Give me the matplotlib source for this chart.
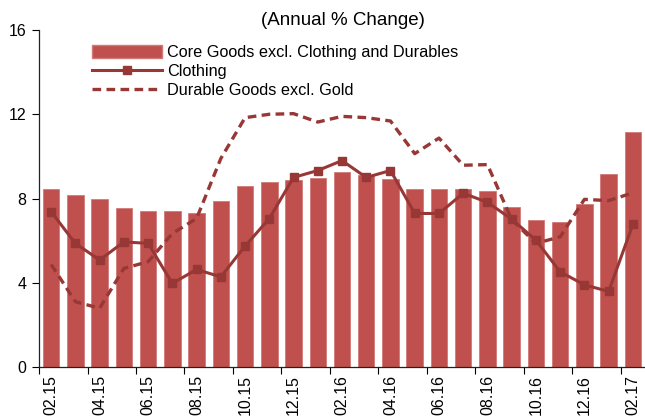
import matplotlib
matplotlib.use("Agg")
import matplotlib.pyplot as plt
from matplotlib.lines import Line2D
from matplotlib.patches import Patch

plt.rcParams['font.family'] = ['Liberation Sans', 'DejaVu Sans']

months = ["02.15", "03.15", "04.15", "05.15", "06.15", "07.15", "08.15", "09.15",
          "10.15", "11.15", "12.15", "01.16", "02.16", "03.16", "04.16", "05.16",
          "06.16", "07.16", "08.16", "09.16", "10.16", "11.16", "12.16", "01.17",
          "02.17"]
core_goods = [8.47, 8.17, 8.0, 7.55, 7.43, 7.4, 7.33, 7.89, 8.6, 8.77, 8.9, 8.96,
              9.28, 9.1, 8.91, 8.46, 8.46, 8.46, 8.36, 7.6, 6.96, 6.88, 7.76, 9.18,
              11.16]
clothing = [7.37, 5.87, 5.08, 5.94, 5.87, 3.97, 4.63, 4.28, 5.74, 7.05, 9.0, 9.33,
            9.8, 9.0, 9.33, 7.29, 7.29, 8.25, 7.82, 7.02, 6.02, 4.52, 3.9, 3.59,
            6.77]
durables = [4.87, 3.1, 2.79, 4.68, 5.0, 6.34, 7.05, 9.9, 11.84, 12.0, 12.03, 11.63,
            11.9, 11.84, 11.68, 10.13, 10.87, 9.58, 9.61, 7.0, 5.87, 6.18, 7.96,
            7.9, 8.27]
tick_labels = months[::2]

bar_color = "#C0504D"
line_color = "#983836"

fig = plt.figure(figsize=(6.45, 4.16), dpi=100)
ax = fig.add_axes([0.0605, 0.1178, 0.9395, 0.810])

x = list(range(len(months)))
ax.bar(x, core_goods, width=0.68, color=bar_color, edgecolor="#D07A78",
       linewidth=0.6, zorder=2)
ax.plot(x, clothing, color=line_color, lw=2.2, marker="s", markersize=6,
        zorder=4)
ax.plot(x, durables, color=line_color, lw=2.4, ls=(0, (2.6, 1.6)), zorder=3)

ax.set_xlim(-0.5, len(months) - 0.5)
ax.set_ylim(0, 16)
ax.set_yticks([0, 4, 8, 12, 16])

ax.set_xticks([i - 0.5 for i in range(0, len(months), 2)])
ax.set_xticklabels([])
ax.set_xticks(list(range(0, len(months), 2)), minor=True)
ax.set_xticklabels(tick_labels, minor=True, rotation=90, fontsize=11.5)
ax.tick_params(axis="x", which="minor", length=0, pad=6)
ax.tick_params(axis="x", which="major", length=5, width=0.8, direction="out")
ax.tick_params(axis="y", length=5, width=0.8, labelsize=11.5, pad=4)

for s in ["top", "right"]:
    ax.spines[s].set_visible(False)
for s in ["left", "bottom"]:
    ax.spines[s].set_linewidth(0.9)
    ax.spines[s].set_color("#222222")

fig.text(0.531, 0.951, "(Annual % Change)", ha="center", va="center",
         fontsize=13.5)

handles = [Patch(facecolor=bar_color, edgecolor="#D07A78"),
           Line2D([], [], color=line_color, lw=2.2, marker="s", markersize=6),
           Line2D([], [], color=line_color, lw=2.4, ls=(0, (2.6, 1.6)))]
labels = ["Core Goods excl. Clothing and Durables", "Clothing",
          "Durable Goods excl. Gold"]
fig.legend(handles, labels, loc="upper left", bbox_to_anchor=(0.1425, 0.892),
           frameon=False, fontsize=11.7, handlelength=4.3, handleheight=0.9,
           handletextpad=0.3, labelspacing=0.22, borderpad=0, borderaxespad=0)

fig.savefig("out.png", dpi=100)
